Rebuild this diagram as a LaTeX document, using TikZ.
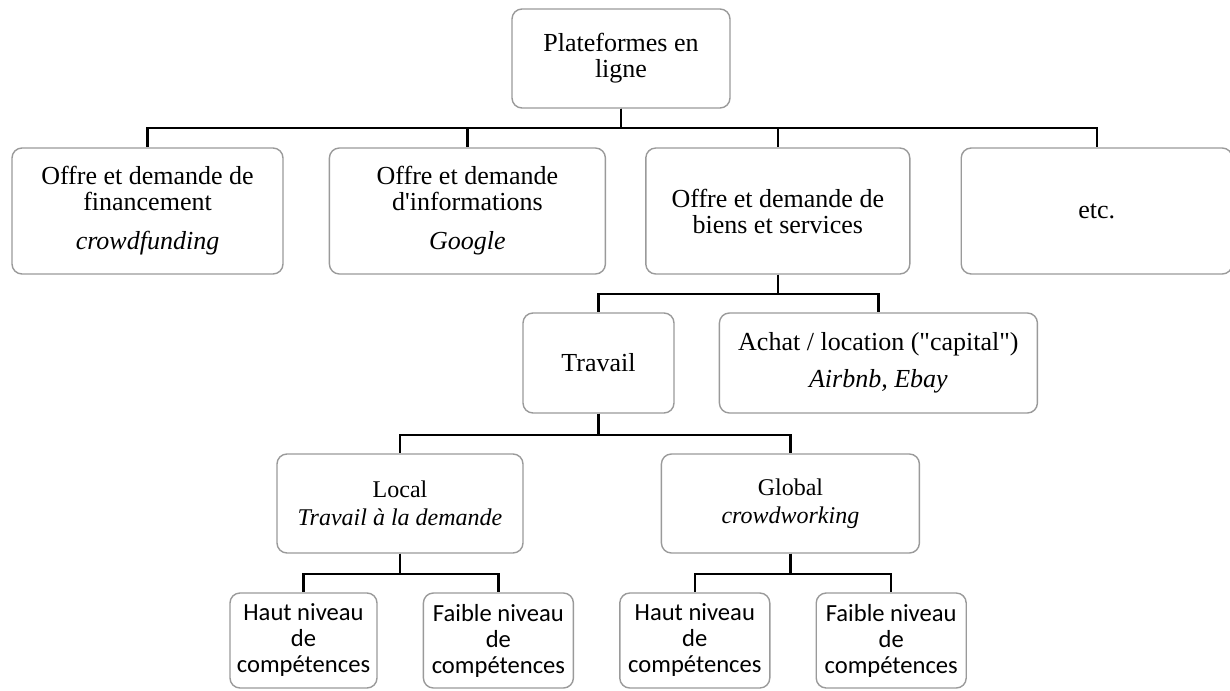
\documentclass[tikz,border=0pt]{standalone}
\usepackage{fontspec}
\setmainfont{Liberation Serif}[Ligatures=TeXOff]
\setsansfont{Carlito}
\usepackage{tikz}
\usetikzlibrary{positioning}
\definecolor{bgray}{HTML}{9A9A9A}

\begin{document}
\begin{tikzpicture}[x=0.5pt, y=-0.5pt,
  box/.style={draw=bgray, line width=0.7pt, rounded corners=5pt, align=center, inner sep=1pt,
    font=\fontsize{13}{13}\selectfont},
  mid/.style={box, font=\fontsize{12}{14}\selectfont},
  leaf/.style={box, minimum width=75pt, minimum height=47.5pt, font=\sffamily\fontsize{12.3}{13}\selectfont},
  link/.style={line width=1.1pt, black}]
\useasboundingbox (0,0) rectangle (1230,690);
\node[box, minimum width=109pt, minimum height=49.5pt] (root) at (621,58.5) {Plateformes en\\ ligne};
\node[box, minimum width=135.5pt, minimum height=63pt] (fin) at (147.5,211) {Offre et demande de\\ financement\\[6.5pt] \textit{crowdfunding}};
\node[box, minimum width=138pt, minimum height=63pt, right=22.5pt of fin] (info) {Offre et demande\\ d'informations\\[6.5pt] \textit{Google}};
\node[box, minimum width=132pt, minimum height=63pt, right=19.5pt of info] (biens) {Offre et demande de\\ biens et services};
\node[box, minimum width=135.5pt, minimum height=63pt, right=25pt of biens] (autres) {etc.};
\node[box, minimum width=75.5pt, minimum height=50pt] (trav) at (598.5,363) {Travail};
\node[box, minimum width=159pt, minimum height=50pt, right=22pt of trav] (achat) {Achat / location ("capital")\\[5.5pt] \textit{Airbnb, Ebay}};
\node[mid, minimum width=123pt, minimum height=49.5pt] (local) at (400,503.5) {Local\\ \textit{Travail à la demande}};
\node[mid, minimum width=129pt, minimum height=49.5pt, right=68.5pt of local] (global) {Global\\ \textit{crowdworking}};
\node[leaf, minimum width=73.5pt] (hautA) at (303.5,640.5) {Haut niveau\\ de\\ compétences};
\node[leaf, right=22.5pt of hautA] (faibleA) {Faible niveau\\ de\\ compétences};
\node[leaf, right=22.5pt of faibleA] (hautB) {Haut niveau\\ de\\ compétences};
\node[leaf, right=22.5pt of hautB] (faibleB) {Faible niveau\\ de\\ compétences};
\foreach \n in {fin,info,biens,autres} \draw[link] (root.south) -- ++(0,19) -| (\n);
\foreach \n in {trav,achat} \draw[link] (biens.south) -- ++(0,19) -| (\n);
\foreach \n in {local,global} \draw[link] (trav.south) -- ++(0,21) -| (\n);
\foreach \n in {hautA,faibleA} \draw[link] (local.south) -- ++(0,20) -| (\n);
\foreach \n in {hautB,faibleB} \draw[link] (global.south) -- ++(0,20) -| (\n);
\end{tikzpicture}
\end{document}
